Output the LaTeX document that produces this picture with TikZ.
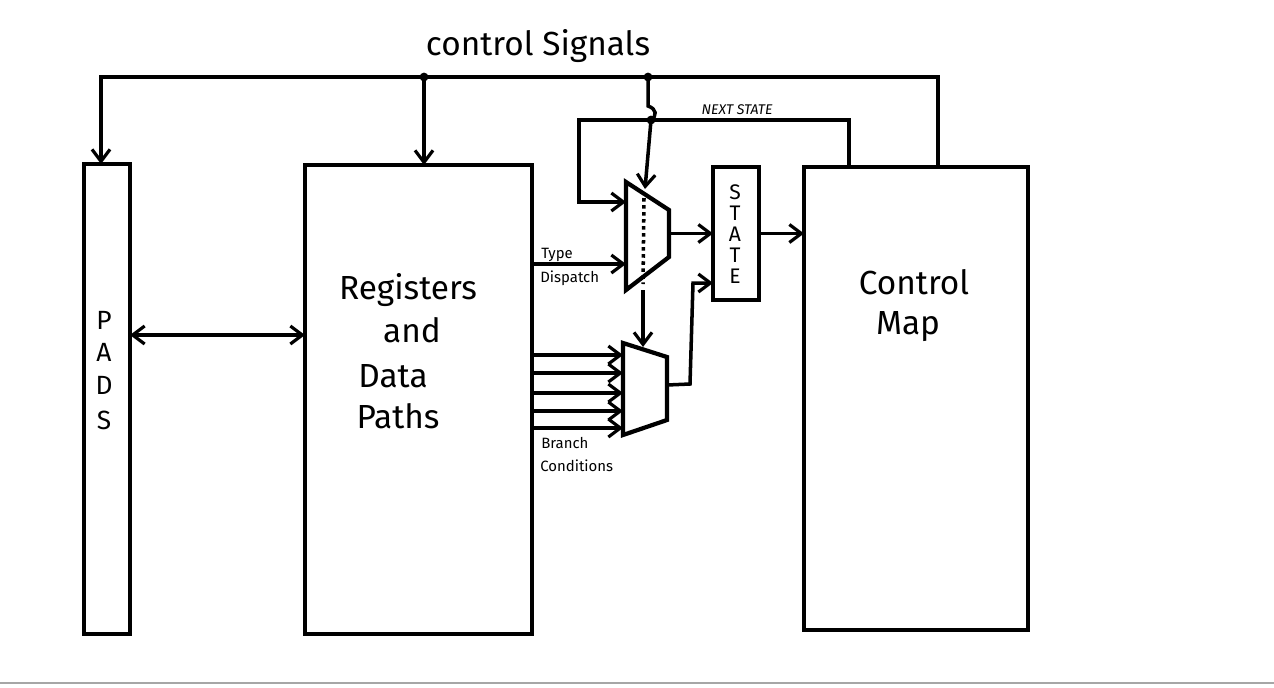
\documentclass[tikz,border=0pt]{standalone}
\usepackage{fontspec}
\setmainfont{Fira Sans}
\usetikzlibrary{arrows.meta}
\begin{document}
\begin{tikzpicture}[x=0.02cm,y=-0.02cm,
  blk/.style 2 args={draw,line width=2.2pt,minimum width=#1*0.02cm,minimum height=#2*0.02cm,inner sep=0pt,outer sep=0pt},
  wire/.style={line width=2pt},
  arr/.style={wire,-{Straight Barb[length=2.4mm,width=3.6mm,line width=1.8pt]}},
  darr/.style={wire,{Straight Barb[length=2.4mm,width=3.6mm,line width=1.8pt]}-{Straight Barb[length=2.4mm,width=3.6mm,line width=1.8pt]}},
  mux/.style={line width=2.4pt,line join=miter},
  big/.style={inner sep=0pt,font=\fontsize{19}{21}\selectfont},
  mid/.style={inner sep=0pt,font=\fontsize{15}{17}\selectfont},
  stl/.style={inner sep=0pt,font=\fontsize{12}{14}\selectfont,text height=0.72em,text depth=0pt},
  small/.style={inner sep=0pt,font=\fontsize{8.5}{10}\selectfont},
  dot/.style={circle,fill,inner sep=0pt,minimum size=5pt}]
\useasboundingbox (0,0) rectangle (1274,687);
\fill[white] (0,0) rectangle (1274,687);
\draw[gray!70,line width=0.8pt] (0,683) -- (1274,683);

% blocks
\node[blk={46}{470}] (pads) at (107,399) {};
\node[blk={227}{469}] (regs) at (418.5,399.5) {};
\node[blk={224}{463}] (cmap) at (916,398.5) {};
\node[blk={46}{133}] (state) at (736,233.5) {};

% muxes
\coordinate (m1a) at (626,182);
\coordinate (m1b) at (669,210);
\coordinate (m1c) at (669,257);
\coordinate (m1d) at (626,290);
\draw[mux] (m1a) -- (m1b) -- (m1c) -- (m1d) -- cycle;
\coordinate (m2a) at (623,343);
\coordinate (m2b) at (667,357);
\coordinate (m2c) at (667,420);
\coordinate (m2d) at (623,435);
\draw[mux] (m2a) -- (m2b) -- (m2c) -- (m2d) -- cycle;

% labels
\node[big] (tcs) at (538,46) {control Signals};
\node[mid] (p1) at (104,320) {P};
\node[mid] (p2) at (104,352) {A};
\node[mid] (p3) at (104,385) {D};
\node[mid] (p4) at (104,420) {S};
\node[big] (r1) at (408,290) {Registers};
\node[big] (r2) at (412,330) {and};
\node[big] (r3) at (393,376) {Data};
\node[big] (r4) at (398,416) {Paths};
\node[big] (c1) at (914,282) {Control};
\node[big] (c2) at (908,327) {Map};
\node[stl] (s1) at (735,193) {S};
\node[stl] (s2) at (735,214) {T};
\node[stl] (s3) at (735,235) {A};
\node[stl] (s4) at (735,256) {T};
\node[stl] (s5) at (735,277) {E};
\node[small,font=\fontsize{8}{10}\itshape] (ns) at (737,110) {NEXT STATE};
\node[small,anchor=west] (ty) at (541,255) {Type};
\node[small,anchor=west] (di) at (540,278) {Dispatch};
\node[small,anchor=west] (br) at (541,443) {Branch};
\node[small,anchor=west] (co) at (540,466) {Conditions};

% control bus
\coordinate (busL) at (101,77);
\coordinate (busR) at (938,77);
\coordinate (jR) at (424,77);
\coordinate (jS) at (648,77);
\draw[arr] (busR |- cmap.north) -- (busR) -- (busL) -- (busL |- pads.north);
\draw[arr] (jR) -- (jR |- regs.north);
\node[dot] (dR) at (jR) {};
\node[dot] (dS) at (jS) {};

% select line
\coordinate (hop) at (651,120);
\draw[wire] (jS) -- (648,106) .. controls (657,109) and (657,116) .. (hop);
\node[dot] (dH) at (hop) {};
\draw[arr] (hop) -- (645,189);
\draw[wire,dotted] (644,198) -- (643,284);
\draw[arr] (643,290) -- (643,347);

% next state loop
\coordinate (nsR) at (849,120);
\coordinate (nsL) at (579,120);
\draw[arr] (nsR |- cmap.north) -- (nsR) -- (nsL) -- (579,202) -- (626,202);

% data paths
\draw[darr] (pads.east |- 0,335) -- (regs.west |- 0,335);
\draw[arr] (regs.east |- 0,264) -- (626,264);
\foreach \yy in {355,373,393,411,428} \draw[arr] (regs.east |- 0,\yy) -- (623,\yy);

% mux outputs
\draw[arr] (669,233.5) -- (state.west);
\draw[arr] (state.east) -- (cmap.west |- state.east);
\draw[arr] (m2b |- 0,385) -- (690,384) -- (693,283) -- (state.west |- 0,283);
\end{tikzpicture}
\end{document}
